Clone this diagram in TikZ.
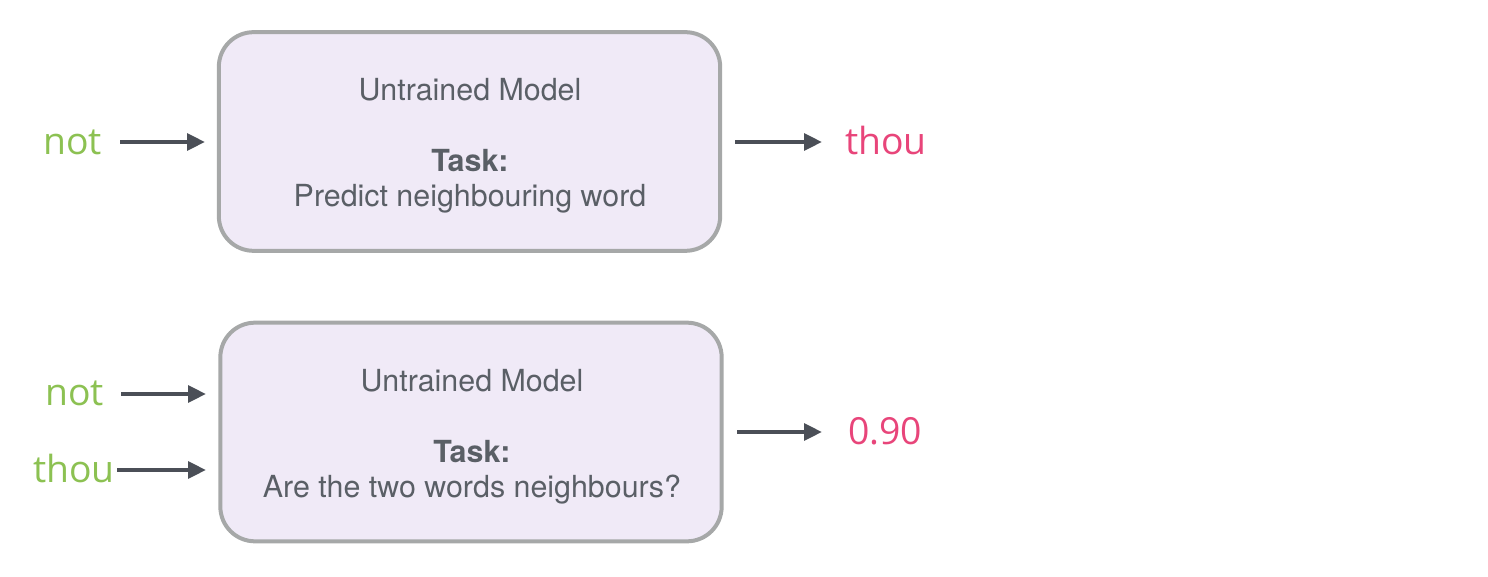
\documentclass[tikz,border=0pt]{standalone}
\usepackage{fontspec}
\setmainfont{TeX Gyre Heros}
\newfontfamily\wordfont{Open Sans}
\usetikzlibrary{arrows.meta}
\definecolor{boxfill}{HTML}{F0EAF7}
\definecolor{boxdraw}{HTML}{A6A8A8}
\definecolor{txtgray}{HTML}{5A5F66}
\definecolor{arrgray}{HTML}{4B4F57}
\definecolor{wgreen}{HTML}{8CC152}
\definecolor{wpink}{HTML}{E8457A}
\tikzset{
  model/.style={draw=boxdraw, line width=3pt, fill=boxfill, rounded corners=26pt, minimum width=376pt, minimum height=164pt, inner sep=0pt},
  btxt/.style={text=txtgray, font=\fontsize{22.8}{26}\selectfont, inner sep=0pt},
  bold/.style={btxt, font=\fontsize{22.8}{26}\selectfont\bfseries},
  inword/.style={text=wgreen, font=\wordfont\fontsize{28}{32}\selectfont, inner sep=0pt},
  outword/.style={text=wpink, font=\wordfont\fontsize{28}{32}\selectfont, inner sep=0pt},
  arr/.style={draw=arrgray, line width=3pt, -{Triangle[length=13.5pt, width=12.5pt]}},
}
\begin{document}
\begin{tikzpicture}[x=0.75pt, y=-0.75pt]
\useasboundingbox (0,0) rectangle (1488,577);
% top
\node[model] (box1) at (469.5,141.5) {};
\node[btxt] (t1) at (470,90) {Untrained Model};
\node[bold] (k1) at (470,161) {Task:};
\node[btxt] (d1) at (470,199) {Predict neighbouring word};
\node[inword, anchor=east] (in1) at (102,142) {not};
\node[outword, anchor=west] (out1) at (845,141) {thou};
\coordinate (a1s) at (120,142);
\coordinate (a1e) at (205,142);
\coordinate (o1s) at (735,142);
\coordinate (o1e) at (822,142);
\draw[arr] (a1s) -- (a1e);
\draw[arr] (o1s) -- (o1e);
% bottom
\node[model] (box2) at (471,432) {};
\node[btxt] (t2) at (472,381) {Untrained Model};
\node[bold] (k2) at (472,452) {Task:};
\node[btxt] (d2) at (472,490) {Are the two words neighbours?};
\node[inword, anchor=east] (in2) at (104,393) {not};
\node[inword, anchor=east] (in3) at (115,468) {thou};
\node[outword, anchor=west] (out2) at (848,431) {0.90};
\coordinate (a2s) at (121,394);
\coordinate (a2e) at (206,394);
\coordinate (a3s) at (117,470);
\coordinate (a3e) at (206,470);
\coordinate (o2s) at (737,432);
\coordinate (o2e) at (822,432);
\draw[arr] (a2s) -- (a2e);
\draw[arr] (a3s) -- (a3e);
\draw[arr] (o2s) -- (o2e);
\end{tikzpicture}
\end{document}
